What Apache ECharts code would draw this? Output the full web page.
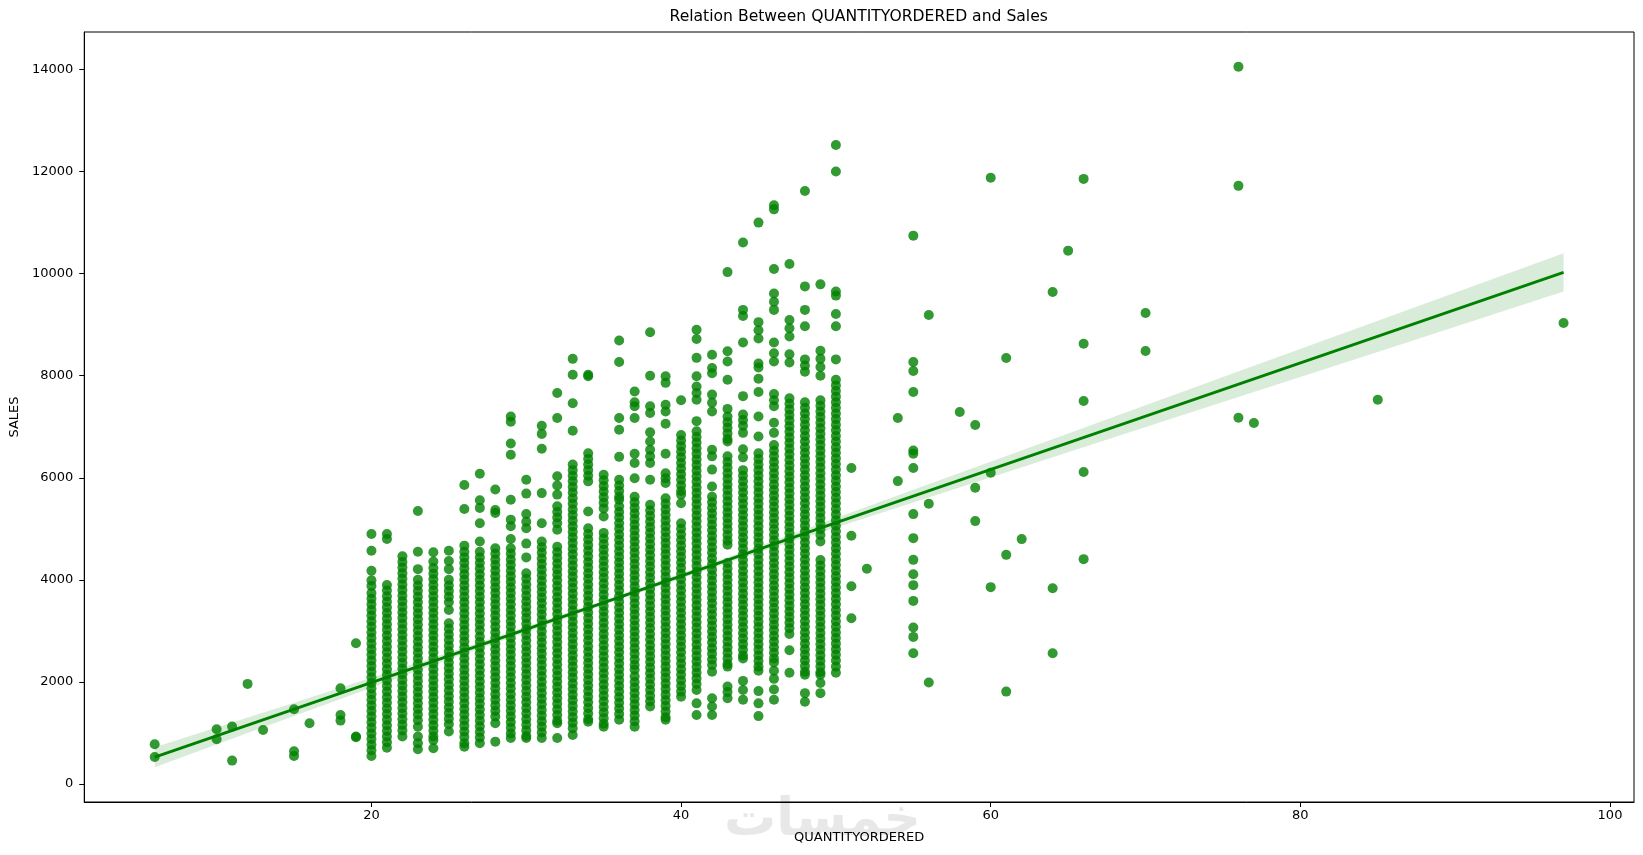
<!DOCTYPE html>
<html>
<head>
<meta charset="utf-8">
<title>Relation Between QUANTITYORDERED and Sales</title>
<script src="https://cdn.jsdelivr.net/npm/echarts@6/dist/echarts.min.js"></script>
<style>
    html, body { margin: 0; padding: 0; background: #fff; }
    #chart { width: 1643px; height: 855px; }
</style>
</head>
<body>
<div id="chart"></div>
<script>
// tick labels
var xTicks = [20, 40, 60, 80, 100];
var yTicks = [0, 2000, 4000, 6000, 8000, 10000, 12000, 14000];

// isolated points (quantity / sales read one by one)
var sparseQty = [
    6, 6, 10, 10, 11, 11, 12, 13, 15, 15, 15, 16, 18, 18, 18, 19, 19, 19,
    51, 51, 51, 51, 52, 54, 54,
    55, 55, 55, 55, 55, 55, 55, 55, 55, 55, 55, 55, 55, 55, 55, 55,
    56, 56, 56, 58, 59, 59, 59, 60, 60, 60, 61, 61, 61, 62, 64, 64, 64, 65,
    66, 66, 66, 66, 66, 70, 70, 76, 76, 76, 77, 85, 97
];
var sparseSales = [
    778, 530, 1072, 876, 1124, 458, 1961, 1059, 1464, 641, 549, 1190, 1876, 1353, 1242, 2758, 915, 930,
    6190, 4863, 3876, 3249, 4216, 7170, 5935,
    10745, 8268, 8092, 7680, 6535, 6470, 6190, 5288, 4817, 4392, 4111, 3896, 3588, 3065, 2882, 2562,
    9190, 5490, 1990, 7288, 7033, 5804, 5151, 11880, 6098, 3857, 8346, 4490, 1810, 4798, 9640, 3837, 2562, 10451,
    11857, 8627, 7504, 6112, 4406, 9229, 8484, 14053, 11720, 7176, 7072, 7529, 9033
];

// dense columns, quantity 20 .. 50 (tightly packed orders)
var sales20 = [4900, 4570, 4180, 3990, 3880, 3740, 3630, 3520, 3410, 3300, 3190, 3080, 2970, 2860, 2750, 2640, 2530, 2420, 2310, 2200, 2090, 1980, 1870, 1760, 1650, 1540, 1430, 1320, 1210, 1100, 990, 880, 770, 660, 550];
var sales21 = [4900, 4800, 3900, 3790, 3680, 3570, 3460, 3350, 3240, 3130, 3020, 2910, 2800, 2690, 2580, 2470, 2360, 2250, 2140, 2030, 1920, 1810, 1700, 1590, 1480, 1370, 1260, 1150, 1040, 930, 820, 710];
var sales22 = [4460, 4350, 4240, 4130, 4020, 3910, 3800, 3690, 3580, 3470, 3360, 3250, 3140, 3030, 2920, 2810, 2700, 2590, 2480, 2370, 2260, 2150, 2040, 1930, 1820, 1710, 1600, 1490, 1380, 1270, 1160, 1050, 930];
var sales23 = [5350, 4550, 4210, 4000, 3890, 3780, 3670, 3560, 3450, 3340, 3230, 3120, 3010, 2900, 2790, 2680, 2570, 2460, 2350, 2240, 2130, 2020, 1910, 1800, 1690, 1580, 1470, 1360, 1250, 1120, 930, 800, 680];
var sales24 = [4540, 4360, 4230, 4120, 4010, 3900, 3790, 3680, 3570, 3460, 3350, 3240, 3130, 3020, 2910, 2800, 2690, 2580, 2470, 2360, 2250, 2140, 2030, 1920, 1810, 1700, 1590, 1480, 1370, 1260, 1150, 1040, 930, 860, 700];
var sales25 = [4570, 4370, 4210, 4000, 3890, 3780, 3670, 3560, 3410, 3150, 3040, 2930, 2820, 2710, 2600, 2490, 2380, 2270, 2160, 2050, 1940, 1830, 1720, 1610, 1500, 1390, 1280, 1170, 1030];
var sales26 = [5860, 5390, 4670, 4550, 4440, 4330, 4220, 4110, 4000, 3890, 3780, 3670, 3560, 3450, 3340, 3230, 3120, 3010, 2900, 2790, 2680, 2570, 2460, 2350, 2240, 2130, 2020, 1910, 1800, 1690, 1580, 1470, 1360, 1250, 1140, 1030, 920, 800, 730];
var sales27 = [6080, 5560, 5410, 5110, 4750, 4550, 4440, 4330, 4220, 4110, 4000, 3890, 3780, 3670, 3560, 3450, 3340, 3230, 3120, 3010, 2890, 2780, 2670, 2560, 2450, 2340, 2230, 2120, 2010, 1900, 1790, 1680, 1570, 1460, 1350, 1240, 1130, 1020, 910, 800];
var sales28 = [5770, 5370, 5310, 4620, 4510, 4400, 4290, 4180, 4070, 3960, 3850, 3740, 3630, 3520, 3410, 3300, 3190, 3080, 2970, 2860, 2750, 2640, 2530, 2420, 2310, 2200, 2090, 1980, 1870, 1760, 1650, 1540, 1430, 1320, 1190, 830];
var sales29 = [7200, 7100, 6670, 6450, 5570, 5180, 5050, 4800, 4620, 4510, 4400, 4290, 4180, 4070, 3960, 3850, 3740, 3630, 3520, 3410, 3300, 3190, 3080, 2970, 2860, 2750, 2640, 2530, 2420, 2310, 2200, 2090, 1980, 1870, 1760, 1650, 1540, 1430, 1320, 1210, 1100, 990, 900];
var sales30 = [5960, 5690, 5290, 5140, 5010, 4710, 4440, 4130, 4020, 3910, 3800, 3690, 3580, 3470, 3360, 3250, 3140, 3030, 2920, 2810, 2700, 2590, 2480, 2370, 2260, 2150, 2040, 1930, 1820, 1710, 1600, 1490, 1380, 1270, 1160, 1050, 940, 900];
var sales31 = [7020, 6860, 6570, 5700, 5110, 4750, 4640, 4530, 4420, 4310, 4200, 4090, 3980, 3870, 3760, 3650, 3540, 3430, 3320, 3210, 3100, 2990, 2880, 2770, 2660, 2550, 2440, 2330, 2220, 2110, 2000, 1890, 1780, 1670, 1560, 1450, 1340, 1230, 1120, 1010, 900];
var sales32 = [7660, 7170, 6030, 5850, 5670, 5440, 5330, 5220, 5110, 4980, 4650, 4540, 4430, 4320, 4210, 4100, 3990, 3880, 3770, 3660, 3550, 3440, 3330, 3220, 3110, 3000, 2890, 2780, 2670, 2560, 2450, 2340, 2230, 2120, 2010, 1900, 1790, 1680, 1570, 1460, 1350, 1240, 1190, 900];
var sales33 = [8330, 8020, 7460, 6920, 6260, 6150, 6040, 5930, 5820, 5710, 5600, 5490, 5380, 5270, 5160, 5050, 4940, 4830, 4720, 4610, 4500, 4390, 4280, 4170, 4060, 3950, 3840, 3730, 3620, 3510, 3400, 3290, 3180, 3070, 2960, 2850, 2740, 2630, 2520, 2410, 2300, 2190, 2080, 1970, 1860, 1750, 1640, 1530, 1420, 1310, 1200, 1090, 960];
var sales34 = [8020, 7990, 6480, 6370, 6260, 6150, 6040, 5930, 5340, 5010, 4900, 4790, 4680, 4570, 4460, 4350, 4240, 4130, 4020, 3910, 3800, 3690, 3580, 3470, 3360, 3250, 3140, 3030, 2920, 2810, 2700, 2590, 2480, 2370, 2260, 2150, 2040, 1930, 1820, 1710, 1600, 1490, 1380, 1270, 1220];
var sales35 = [6060, 5950, 5840, 5730, 5620, 5510, 5400, 5240, 4920, 4810, 4700, 4590, 4480, 4370, 4260, 4150, 4040, 3930, 3820, 3710, 3600, 3490, 3380, 3270, 3160, 3050, 2940, 2830, 2720, 2610, 2500, 2390, 2280, 2170, 2060, 1950, 1840, 1730, 1620, 1510, 1400, 1290, 1180, 1120];
var sales36 = [8690, 8270, 7170, 6940, 6410, 5960, 5850, 5740, 5630, 5570, 5440, 5330, 5220, 5110, 5000, 4890, 4780, 4670, 4560, 4450, 4340, 4230, 4120, 4010, 3900, 3790, 3680, 3570, 3460, 3350, 3240, 3130, 3020, 2910, 2800, 2690, 2580, 2470, 2360, 2250, 2140, 2030, 1920, 1810, 1700, 1590, 1480, 1370, 1260];
var sales37 = [7690, 7480, 7400, 7170, 6470, 6290, 5990, 5630, 5520, 5410, 5300, 5190, 5080, 4970, 4860, 4750, 4640, 4530, 4420, 4310, 4200, 4090, 3980, 3870, 3760, 3650, 3540, 3430, 3320, 3210, 3100, 2990, 2880, 2770, 2660, 2550, 2440, 2330, 2240, 2110, 2000, 1890, 1780, 1670, 1560, 1450, 1340, 1230, 1120];
var sales38 = [8850, 8000, 7400, 7270, 6890, 6710, 6550, 6420, 6290, 5960, 5470, 5360, 5250, 5140, 5030, 4920, 4810, 4700, 4590, 4480, 4370, 4260, 4150, 4040, 3930, 3820, 3710, 3600, 3490, 3380, 3270, 3160, 3050, 2940, 2830, 2720, 2610, 2500, 2390, 2280, 2170, 2060, 1950, 1840, 1730, 1620, 1520];
var sales39 = [7990, 7860, 7430, 7300, 7060, 6470, 6090, 5990, 5900, 5600, 5490, 5380, 5270, 5160, 5050, 4940, 4830, 4720, 4610, 4500, 4390, 4280, 4170, 4060, 3950, 3840, 3730, 3620, 3510, 3400, 3290, 3180, 3070, 2960, 2850, 2740, 2630, 2520, 2410, 2300, 2190, 2080, 1970, 1860, 1750, 1640, 1530, 1420, 1310, 1260];
var sales40 = [7520, 6840, 6730, 6620, 6510, 6400, 6290, 6180, 6070, 5960, 5850, 5740, 5670, 5500, 5110, 5000, 4890, 4780, 4670, 4560, 4450, 4340, 4230, 4120, 4010, 3900, 3790, 3680, 3570, 3460, 3350, 3240, 3130, 3020, 2910, 2800, 2690, 2580, 2470, 2360, 2250, 2140, 2030, 1920, 1810, 1710];
var sales41 = [8900, 8720, 8350, 7990, 7790, 7660, 7530, 7110, 6910, 6800, 6690, 6580, 6470, 6360, 6250, 6140, 6030, 5920, 5810, 5700, 5590, 5480, 5370, 5260, 5150, 5040, 4930, 4820, 4710, 4600, 4490, 4380, 4270, 4160, 4050, 3940, 3830, 3720, 3610, 3500, 3390, 3280, 3170, 3060, 2950, 2840, 2730, 2620, 2510, 2400, 2290, 2180, 2070, 1960, 1840, 1580, 1350];
var sales42 = [8410, 8150, 8050, 7630, 7470, 7300, 6550, 6420, 6160, 5830, 5630, 5520, 5410, 5300, 5190, 5080, 4970, 4860, 4750, 4640, 4530, 4420, 4310, 4200, 4090, 3980, 3870, 3760, 3650, 3540, 3430, 3320, 3210, 3100, 2990, 2880, 2770, 2660, 2550, 2440, 2330, 2200, 1680, 1520, 1350];
var sales43 = [10030, 8480, 8280, 7920, 7350, 7200, 7090, 6980, 6870, 6760, 6710, 6420, 6310, 6200, 6090, 5980, 5870, 5760, 5650, 5540, 5430, 5320, 5210, 5100, 4990, 4880, 4770, 4690, 4330, 4220, 4110, 4000, 3890, 3780, 3670, 3560, 3450, 3340, 3230, 3120, 3010, 2900, 2790, 2680, 2570, 2460, 2350, 2300, 1910, 1800, 1680];
var sales44 = [10610, 9290, 9170, 8650, 7600, 7240, 7130, 7020, 6880, 6560, 6400, 6150, 6040, 5930, 5820, 5710, 5600, 5490, 5380, 5270, 5160, 5050, 4940, 4830, 4720, 4610, 4500, 4390, 4280, 4170, 4060, 3950, 3840, 3730, 3620, 3510, 3400, 3290, 3180, 3070, 2960, 2850, 2740, 2630, 2520, 2460, 2020, 1840, 1650];
var sales45 = [11000, 9050, 8890, 8730, 8240, 8160, 7940, 7680, 7200, 6810, 6480, 6370, 6260, 6150, 6040, 5930, 5820, 5710, 5600, 5490, 5380, 5270, 5160, 5050, 4940, 4830, 4720, 4610, 4500, 4390, 4280, 4170, 4060, 3950, 3840, 3730, 3620, 3510, 3400, 3290, 3180, 3070, 2960, 2850, 2740, 2630, 2520, 2410, 2300, 2220, 1820, 1580, 1330];
var sales46 = [11340, 11260, 10090, 9610, 9450, 9290, 8650, 8440, 8280, 7640, 7520, 7400, 7080, 6880, 6640, 6530, 6420, 6310, 6200, 6090, 5980, 5870, 5760, 5650, 5540, 5430, 5320, 5210, 5100, 4990, 4880, 4770, 4660, 4550, 4440, 4330, 4220, 4110, 4000, 3890, 3780, 3670, 3560, 3450, 3340, 3230, 3120, 3010, 2900, 2790, 2680, 2570, 2460, 2380, 2220, 2060, 1850, 1650];
var sales47 = [10190, 9090, 8930, 8770, 8420, 8260, 7560, 7450, 7340, 7230, 7120, 7010, 6900, 6790, 6680, 6570, 6460, 6350, 6240, 6130, 6020, 5910, 5800, 5690, 5580, 5470, 5360, 5250, 5140, 5030, 4920, 4810, 4700, 4590, 4480, 4370, 4260, 4150, 4040, 3930, 3820, 3710, 3600, 3490, 3380, 3270, 3160, 3050, 2940, 2620, 2180];
var sales48 = [11620, 9750, 9290, 8970, 8320, 8200, 8080, 7480, 7370, 7260, 7150, 7040, 6930, 6820, 6710, 6600, 6490, 6380, 6270, 6160, 6050, 5940, 5830, 5720, 5610, 5500, 5390, 5280, 5170, 5060, 4950, 4840, 4730, 4620, 4510, 4400, 4290, 4180, 4070, 3960, 3850, 3740, 3630, 3520, 3410, 3300, 3190, 3080, 2970, 2860, 2750, 2640, 2530, 2420, 2310, 2200, 2140, 1780, 1610];
var sales49 = [9790, 8490, 8330, 8170, 8000, 7520, 7410, 7300, 7190, 7080, 6970, 6860, 6750, 6640, 6530, 6420, 6310, 6200, 6090, 5980, 5870, 5760, 5650, 5540, 5430, 5320, 5210, 5100, 4990, 4880, 4750, 4390, 4280, 4170, 4060, 3950, 3840, 3730, 3620, 3510, 3400, 3290, 3180, 3070, 2960, 2850, 2740, 2630, 2520, 2410, 2300, 2190, 2140, 1980, 1780];
var sales50 = [12520, 12000, 9650, 9570, 9210, 8970, 8320, 7920, 7810, 7700, 7590, 7480, 7370, 7260, 7150, 7040, 6930, 6820, 6710, 6600, 6490, 6380, 6270, 6160, 6050, 5940, 5830, 5720, 5610, 5500, 5390, 5280, 5170, 5060, 4950, 4840, 4730, 4620, 4510, 4400, 4290, 4180, 4070, 3960, 3850, 3740, 3630, 3520, 3410, 3300, 3190, 3080, 2970, 2860, 2750, 2640, 2530, 2420, 2300, 2180];

var denseQty = [20, 21, 22, 23, 24, 25, 26, 27, 28, 29, 30, 31, 32, 33, 34, 35,
    36, 37, 38, 39, 40, 41, 42, 43, 44, 45, 46, 47, 48, 49, 50];
var denseSales = [sales20, sales21, sales22, sales23, sales24, sales25, sales26, sales27,
    sales28, sales29, sales30, sales31, sales32, sales33, sales34, sales35,
    sales36, sales37, sales38, sales39, sales40, sales41, sales42, sales43,
    sales44, sales45, sales46, sales47, sales48, sales49, sales50];

// fitted line ends and confidence band as read
var fitX = [6, 97];
var fitY = [525, 10025];
var bandX = [6, 15, 25, 35, 45, 55, 65, 75, 85, 97];
var bandLow = [329, 1334, 2438, 3514, 4536, 5515, 6499, 7483, 8467, 9650];
var bandHigh = [721, 1594, 2578, 3590, 4656, 5765, 6869, 7973, 9077, 10400];

var FONT = 'DejaVu Sans';

function buildPoints () {
    var pts = [];
    for (var i = 0; i < sparseQty.length; i++) {
        pts.push([sparseQty[i], sparseSales[i]]);
    }
    for (var c = 0; c < denseQty.length; c++) {
        var col = denseSales[c];
        for (var j = 0; j < col.length; j++) {
            pts.push([denseQty[c], col[j]]);
        }
    }
    return pts;
}

// plain tick text, no thousands separator
function plainLabel (value) {
    return String(value);
}

var chart = echarts.init(document.getElementById('chart'), null, {renderer: 'canvas'});
var option = {
    animation: false,
    backgroundColor: '#fff',
    title: {
        text: 'Relation Between QUANTITYORDERED and Sales',
        left: 858.7,
        top: 9,
        padding: 0,
        textAlign: 'center',
        textStyle: {
            fontFamily: FONT,
            fontSize: 15.6,
            fontWeight: 'normal',
            color: '#000'
        }
    },
    grid: {
        left: 83,
        right: 9,
        top: 32,
        bottom: 53,
        containLabel: false,
        show: true,
        borderColor: '#000',
        borderWidth: 1
    },
    xAxis: {
        type: 'value',
        min: 1.45,
        max: 101.55,
        name: 'QUANTITYORDERED',
        nameLocation: 'middle',
        nameGap: 29,
        nameTextStyle: {fontFamily: FONT, fontSize: 13, color: '#000'},
        splitLine: {show: false},
        axisLine: {show: true, onZero: false, lineStyle: {color: '#000', width: 1}},
        axisTick: {show: true, length: 5, lineStyle: {color: '#000'}, customValues: xTicks},
        axisLabel: {
            margin: 7,
            fontFamily: FONT,
            fontSize: 13,
            color: '#000',
            customValues: xTicks,
            formatter: plainLabel
        }
    },
    yAxis: {
        type: 'value',
        min: -353,
        max: 14735,
        name: 'SALES',
        nameLocation: 'middle',
        nameGap: 58,
        nameTextStyle: {fontFamily: FONT, fontSize: 13, color: '#000'},
        splitLine: {show: false},
        axisLine: {show: true, onZero: false, lineStyle: {color: '#000', width: 1}},
        axisTick: {show: true, length: 5, lineStyle: {color: '#000'}, customValues: yTicks},
        axisLabel: {
            margin: 11,
            fontFamily: FONT,
            fontSize: 13,
            color: '#000',
            customValues: yTicks,
            formatter: plainLabel
        }
    },
    graphic: [
        {
            type: 'text',
            left: 724,
            top: 795,
            z: -10,
            silent: true,
            style: {
                text: 'خمسات',
                font: 'bold 52px "DejaVu Sans"',
                fill: '#e8e8e8'
            }
        }
    ],
    series: [
        {
            name: 'points',
            type: 'scatter',
            symbol: 'circle',
            symbolSize: 10,
            data: buildPoints(),
            itemStyle: {color: '#008000', opacity: 0.8},
            z: 2
        },
        {
            name: 'band',
            type: 'custom',
            data: [[bandX[0], bandLow[0]]],
            z: 3,
            silent: true,
            renderItem: function (params, api) {
                var pts = [];
                for (var i = 0; i < bandX.length; i++) {
                    pts.push(api.coord([bandX[i], bandHigh[i]]));
                }
                for (var k = bandX.length - 1; k >= 0; k--) {
                    pts.push(api.coord([bandX[k], bandLow[k]]));
                }
                return {
                    type: 'polygon',
                    shape: {points: pts},
                    style: {fill: 'rgba(0,128,0,0.15)', stroke: null}
                };
            }
        },
        {
            name: 'fit',
            type: 'line',
            data: [[fitX[0], fitY[0]], [fitX[1], fitY[1]]],
            symbol: 'none',
            lineStyle: {color: '#008000', width: 2.8},
            z: 4
        }
    ]
};
chart.setOption(option);
</script>
</body>
</html>
